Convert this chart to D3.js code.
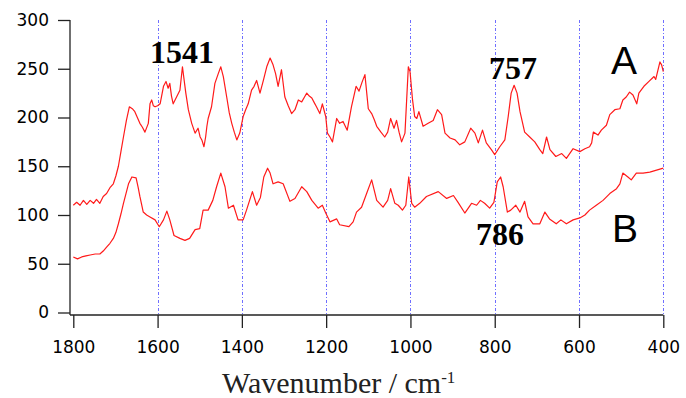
<!DOCTYPE html>
<html>
<head>
<meta charset="utf-8">
<script src="https://cdn.jsdelivr.net/npm/d3@7"></script>
<style>
  body { margin: 0; background: #fff; }
  .axis text { font-family: "DejaVu Sans", sans-serif; font-size: 17px; fill: #000; }
</style>
</head>
<body>
<div id="chart"></div>
<script>
// wavenumber (cm-1), intensity
const spectrumA = [
  [1800,110],[1792,113],[1784,110],[1776,115],[1768,111],[1760,115],[1752,112],[1745,116],[1737,112],[1729,119],
  [1721,122],[1713,128],[1705,132],[1699,140],[1693,150],[1687,165],[1681,180],[1674,197],[1667,211],[1660,209],
  [1654,206],[1648,200],[1642,194],[1636,190],[1630,185],[1622,194],[1618,214],[1614,218],[1610,212],[1606,211],
  [1600,212],[1594,214],[1586,232],[1580,237],[1575,230],[1571,235],[1567,222],[1563,214],[1555,221],[1547,228],
  [1541,252],[1536,235],[1533,225],[1527,208],[1519,194],[1511,184],[1504,189],[1499,180],[1495,177],[1490,170],
  [1486,180],[1483,191],[1480,199],[1472,211],[1464,235],[1456,245],[1450,252],[1444,242],[1436,221],[1430,205],
  [1424,194],[1418,185],[1412,177],[1405,184],[1397,201],[1391,208],[1385,214],[1377,228],[1371,232],[1365,238],
  [1357,225],[1349,238],[1341,252],[1333,261],[1326,254],[1320,245],[1314,232],[1306,249],[1298,221],[1290,212],
  [1282,204],[1274,208],[1266,218],[1258,216],[1250,222],[1246,225],[1240,222],[1234,220],[1228,215],[1223,211],
  [1215,204],[1209,214],[1201,201],[1197,184],[1191,180],[1185,175],[1175,199],[1168,194],[1160,196],[1150,187],
  [1140,211],[1129,232],[1122,227],[1115,236],[1108,244],[1100,209],[1092,204],[1086,198],[1080,191],[1070,185],
  [1061,180],[1054,185],[1047,199],[1039,189],[1033,197],[1027,185],[1021,175],[1013,184],[1005,252],[1001,247],
  [995,218],[990,201],[985,199],[980,206],[970,191],[958,194],[946,197],[936,208],[926,203],[918,184],
  [906,179],[894,177],[883,172],[871,175],[857,189],[847,184],[839,174],[829,187],[820,174],[808,167],
  [800,162],[788,170],[776,177],[768,201],[761,225],[754,233],[747,225],[740,206],[729,185],[717,180],
  [705,175],[693,167],[686,163],[677,180],[669,167],[655,160],[641,163],[630,158],[614,168],[598,165],
  [586,168],[575,170],[570,174],[566,185],[555,182],[547,187],[535,192],[527,203],[515,208],[503,209],
  [496,218],[488,221],[480,226],[472,223],[463,214],[458,225],[446,232],[434,237],[422,242],[418,239],
  [408,257],[404,254],[400,247]
];
const spectrumB = [
  [1800,57],[1790,55],[1780,57],[1770,58],[1760,59],[1748,60],[1737,60],[1729,63],[1721,67],[1713,71],
  [1705,76],[1699,82],[1693,91],[1687,101],[1681,112],[1675,122],[1669,132],[1661,139],[1651,138],[1646,128],
  [1642,119],[1634,103],[1626,100],[1618,98],[1606,95],[1596,88],[1586,95],[1578,104],[1571,95],[1561,79],
  [1547,76],[1535,74],[1524,76],[1511,85],[1500,86],[1492,105],[1480,105],[1469,115],[1460,129],[1450,143],
  [1440,129],[1432,107],[1420,110],[1409,95],[1397,95],[1389,105],[1375,124],[1365,110],[1356,118],[1348,139],
  [1339,148],[1333,143],[1326,132],[1314,134],[1302,132],[1286,114],[1274,117],[1258,129],[1246,124],[1234,115],
  [1219,107],[1209,110],[1201,102],[1191,93],[1175,96],[1168,90],[1146,88],[1136,93],[1128,103],[1116,108],
  [1104,122],[1092,136],[1080,115],[1065,108],[1054,115],[1047,127],[1037,112],[1029,110],[1019,105],[1011,110],
  [1004,139],[997,112],[990,108],[978,112],[962,119],[934,124],[914,117],[898,120],[887,113],[871,102],
  [855,112],[843,110],[834,115],[824,112],[812,107],[802,113],[794,134],[786,139],[780,129],[770,103],
  [762,105],[750,110],[740,103],[729,114],[721,98],[709,91],[693,91],[681,103],[670,96],[654,91],
  [643,95],[630,91],[614,95],[598,97],[586,100],[575,105],[559,110],[543,115],[527,122],[511,127],
  [503,132],[496,143],[484,139],[476,136],[464,143],[448,143],[432,144],[416,146],[400,148]
];
const xTicks = [1800, 1600, 1400, 1200, 1000, 800, 600, 400];
const yTicks = [0, 50, 100, 150, 200, 250, 300];
const gridLines = [1600, 1400, 1200, 1000, 800, 600, 400];
const peakLabels = ['1541', '757', '786'];
const seriesLetters = ['A', 'B'];

const width = 686, height = 398;
const axisX = 70, axisY = 315;

const svg = d3.select('#chart').append('svg')
  .attr('width', width)
  .attr('height', height)
  .style('background', '#fff');

const x = d3.scaleLinear().domain([1800, 400]).range([73.3, 663.3]);
const y = d3.scaleLinear().domain([0, 300]).range([312.5, 20]);
const crisp = v => Math.round(v) + 0.5;

// blue dotted verticals
svg.append('g').selectAll('line')
  .data(gridLines)
  .enter().append('line')
  .attr('x1', d => crisp(x(d))).attr('x2', d => crisp(x(d)))
  .attr('y1', y(300)).attr('y2', axisY)
  .attr('stroke', '#6f6fff')
  .attr('stroke-width', 1)
  .attr('stroke-dasharray', '3,2,1,2');

// axes
const yAxis = svg.append('g')
  .attr('class', 'axis')
  .attr('transform', `translate(${axisX},0)`)
  .call(d3.axisLeft(y).tickValues(yTicks).tickSize(12).tickSizeOuter(0).tickPadding(9));
yAxis.select('.domain').remove();
yAxis.selectAll('line').attr('stroke', '#222').attr('stroke-width', 1.3);

const xAxis = svg.append('g')
  .attr('class', 'axis')
  .attr('transform', `translate(0,${axisY})`)
  .call(d3.axisBottom(x).tickValues(xTicks).tickFormat(d3.format('d')).tickSize(13).tickSizeOuter(0).tickPadding(13));
xAxis.select('.domain').remove();
xAxis.selectAll('line').attr('stroke', '#222').attr('stroke-width', 1.3);

svg.append('line')
  .attr('x1', axisX).attr('x2', axisX)
  .attr('y1', y(300)).attr('y2', axisY)
  .attr('stroke', '#222').attr('stroke-width', 1.3);
svg.append('line')
  .attr('x1', axisX).attr('x2', x(400))
  .attr('y1', axisY).attr('y2', axisY)
  .attr('stroke', '#222').attr('stroke-width', 1.3);

// spectra
const line = d3.line().x(d => x(d[0])).y(d => y(d[1]));
[spectrumA, spectrumB].forEach(s => {
  svg.append('path')
    .datum(s)
    .attr('d', line)
    .attr('fill', 'none')
    .attr('stroke', '#ff1a1a')
    .attr('stroke-width', 1.2)
    .attr('stroke-linejoin', 'round');
});

// peak labels
const peakPos = [[150, 63], [489, 79], [476, 245]];
peakLabels.forEach((t, i) => {
  svg.append('text').attr('x', peakPos[i][0]).attr('y', peakPos[i][1])
    .attr('font-family', '"Liberation Serif", serif').attr('font-weight', 'bold').attr('font-size', 32)
    .text(t);
});

// series letters
const letterPos = [[611, 74], [612, 242]];
seriesLetters.forEach((t, i) => {
  svg.append('text').attr('x', letterPos[i][0]).attr('y', letterPos[i][1])
    .attr('font-family', '"Liberation Sans", Arial, sans-serif').attr('font-size', 39)
    .text(t);
});

// axis title
const title = svg.append('text').attr('x', 222).attr('y', 393)
  .attr('font-family', '"Liberation Serif", serif').attr('font-size', 30).attr('fill', '#222');
title.append('tspan').text('Wavenumber / cm');
title.append('tspan').attr('font-size', 17).attr('dy', -10).text('-1');
</script>
</body>
</html>
